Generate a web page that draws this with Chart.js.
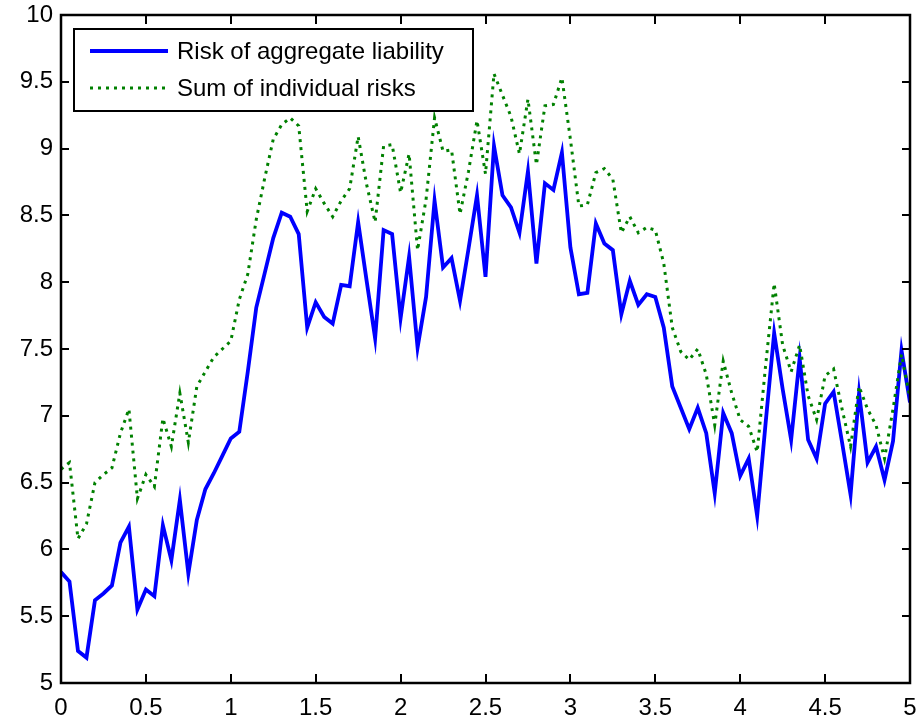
<!DOCTYPE html>
<html>
<head>
<meta charset="utf-8">
<script src="https://cdn.jsdelivr.net/npm/chart.js@4/dist/chart.umd.min.js"></script>
<style>
  html, body { margin: 0; padding: 0; background: #fff; }
  #wrap { width: 921px; height: 721px; }
</style>
</head>
<body>
<div id="wrap"><canvas id="c" width="921" height="721"></canvas></div>
<script>
const xValues = [0.00,0.05,0.10,0.15,0.20,0.25,0.30,0.35,0.40,0.45,0.50,0.55,0.60,0.65,0.70,0.75,0.80,0.85,0.90,0.95,
  1.00,1.05,1.10,1.15,1.20,1.25,1.30,1.35,1.40,1.45,1.50,1.55,1.60,1.65,1.70,1.75,1.80,1.85,1.90,1.95,
  2.00,2.05,2.10,2.15,2.20,2.25,2.30,2.35,2.40,2.45,2.50,2.55,2.60,2.65,2.70,2.75,2.80,2.85,2.90,2.95,
  3.00,3.05,3.10,3.15,3.20,3.25,3.30,3.35,3.40,3.45,3.50,3.55,3.60,3.65,3.70,3.75,3.80,3.85,3.90,3.95,
  4.00,4.05,4.10,4.15,4.20,4.25,4.30,4.35,4.40,4.45,4.50,4.55,4.60,4.65,4.70,4.75,4.80,4.85,4.90,4.95,5.00];

const aggregateRisk = [5.83,5.76,5.24,5.19,5.62,5.67,5.73,6.05,6.17,5.55,5.70,5.65,6.18,5.92,6.37,5.82,6.22,6.45,6.57,6.70,
  6.83,6.88,7.33,7.81,8.07,8.33,8.52,8.49,8.36,7.66,7.85,7.74,7.69,7.98,7.97,8.45,8.01,7.58,8.39,8.36,
  7.73,8.19,7.51,7.89,8.61,8.11,8.18,7.86,8.25,8.65,8.04,9.02,8.65,8.56,8.37,8.83,8.14,8.74,8.69,8.97,
  8.26,7.91,7.92,8.44,8.29,8.24,7.76,8.01,7.83,7.91,7.89,7.66,7.22,7.06,6.90,7.06,6.87,6.42,7.02,6.87,
  6.55,6.68,6.25,6.95,7.62,7.20,6.82,7.43,6.82,6.68,7.09,7.18,6.80,6.41,7.17,6.65,6.77,6.52,6.81,7.49,7.10];

const sumIndividualRisks = [6.60,6.65,6.08,6.19,6.50,6.56,6.61,6.87,7.05,6.38,6.56,6.47,6.98,6.77,7.17,6.80,7.22,7.33,7.44,7.50,
  7.56,7.87,8.06,8.47,8.78,9.07,9.18,9.23,9.17,8.53,8.70,8.59,8.49,8.61,8.70,9.09,8.73,8.45,9.02,9.03,
  8.67,8.96,8.24,8.62,9.23,8.98,8.99,8.51,8.83,9.21,8.81,9.56,9.40,9.24,8.96,9.37,8.88,9.32,9.33,9.53,
  9.07,8.57,8.58,8.82,8.85,8.77,8.37,8.49,8.37,8.41,8.39,8.14,7.66,7.48,7.42,7.50,7.31,6.93,7.41,7.17,
  6.97,6.92,6.73,7.38,7.99,7.53,7.33,7.53,7.15,6.97,7.30,7.35,7.05,6.77,7.22,7.05,6.93,6.68,7.05,7.46,7.13];

const seriesLabels = ['Risk of aggregate liability', 'Sum of individual risks'];
const xTickValues = [0,0.5,1,1.5,2,2.5,3,3.5,4,4.5,5];
const xTickLabels = ['0','0.5','1','1.5','2','2.5','3','3.5','4','4.5','5'];
const yTickValues = [5,5.5,6,6.5,7,7.5,8,8.5,9,9.5,10];
const yTickLabels = ['5','5.5','6','6.5','7','7.5','8','8.5','9','9.5','10'];

const FONT = '"Liberation Sans", Arial, Helvetica, sans-serif';

function pts(ys) { return xValues.map((x, i) => ({ x: x, y: ys[i] })); }

const framePlugin = {
  id: 'frame',
  afterDraw(chart) {
    const ctx = chart.ctx, a = chart.chartArea;
    const xs = chart.scales.x, ys = chart.scales.y;
    ctx.save();
    ctx.strokeStyle = '#000';
    ctx.lineWidth = 2;
    ctx.beginPath();
    xTickValues.forEach(v => {
      const px = Math.round(xs.getPixelForValue(v));
      ctx.moveTo(px, a.bottom); ctx.lineTo(px, a.bottom - 9);
      ctx.moveTo(px, a.top); ctx.lineTo(px, a.top + 9);
    });
    yTickValues.forEach(v => {
      const py = Math.round(ys.getPixelForValue(v));
      ctx.moveTo(a.left, py); ctx.lineTo(a.left + 8, py);
      ctx.moveTo(a.right, py); ctx.lineTo(a.right - 8, py);
    });
    ctx.stroke();
    ctx.lineWidth = 2.5;
    ctx.strokeRect(a.left, a.top, a.right - a.left, a.bottom - a.top);

    // legend box
    const lx = a.left + 13, ly = a.top + 14, lw = 399, lh = 82;
    ctx.fillStyle = '#fff';
    ctx.fillRect(lx, ly, lw, lh);
    ctx.lineWidth = 2;
    ctx.strokeRect(lx, ly, lw, lh);
    const ds = chart.data.datasets;
    const rows = [ly + 22, ly + 59];
    ds.forEach((d, i) => {
      ctx.save();
      ctx.strokeStyle = d.borderColor;
      ctx.lineWidth = d.borderWidth;
      ctx.setLineDash(d.borderDash || []);
      ctx.beginPath();
      ctx.moveTo(lx + 16, rows[i]);
      ctx.lineTo(lx + 94, rows[i]);
      ctx.stroke();
      ctx.restore();
      ctx.fillStyle = '#000';
      ctx.font = '24px ' + FONT;
      ctx.textBaseline = 'middle';
      ctx.textAlign = 'left';
      ctx.fillText(d.label, lx + 103, rows[i] + 1);
    });
    ctx.restore();
  }
};

function noPad(s) { s.paddingTop = 0; s.paddingBottom = 0; s.paddingLeft = 0; s.paddingRight = 0; }

new Chart(document.getElementById('c'), {
  type: 'line',
  data: {
    datasets: [
      { label: seriesLabels[0], data: pts(aggregateRisk), borderColor: '#0000ff', borderWidth: 3.8,
        pointRadius: 0, tension: 0, fill: false, order: 2 },
      { label: seriesLabels[1], data: pts(sumIndividualRisks), borderColor: '#008000', borderWidth: 3,
        borderDash: [3, 5], pointRadius: 0, tension: 0, fill: false, order: 1 }
    ]
  },
  options: {
    responsive: false,
    animation: false,
    devicePixelRatio: 1,
    layout: { padding: { left: 0, right: 11, top: 15, bottom: 0 } },
    plugins: { legend: { display: false }, tooltip: { enabled: false } },
    scales: {
      x: {
        type: 'linear', min: 0, max: 5,
        afterBuildTicks(s) { s.ticks = xTickValues.map(v => ({ value: v })); },
        afterFit(s) { s.height = 38; noPad(s); },
        grid: { display: false, drawTicks: false },
        border: { display: false },
        ticks: {
          color: '#000', padding: 11, maxRotation: 0, autoSkip: false,
          font: { family: FONT, size: 24 },
          callback(v) { const i = xTickValues.indexOf(v); return i >= 0 ? xTickLabels[i] : ''; }
        }
      },
      y: {
        type: 'linear', min: 5, max: 10,
        afterBuildTicks(s) { s.ticks = yTickValues.map(v => ({ value: v })); },
        afterFit(s) { s.width = 61; noPad(s); },
        grid: { display: false, drawTicks: false },
        border: { display: false },
        ticks: {
          color: '#000', padding: 8, autoSkip: false,
          font: { family: FONT, size: 24 },
          callback(v) { const i = yTickValues.indexOf(v); return i >= 0 ? yTickLabels[i] : ''; }
        }
      }
    }
  },
  plugins: [framePlugin]
});
</script>
</body>
</html>
